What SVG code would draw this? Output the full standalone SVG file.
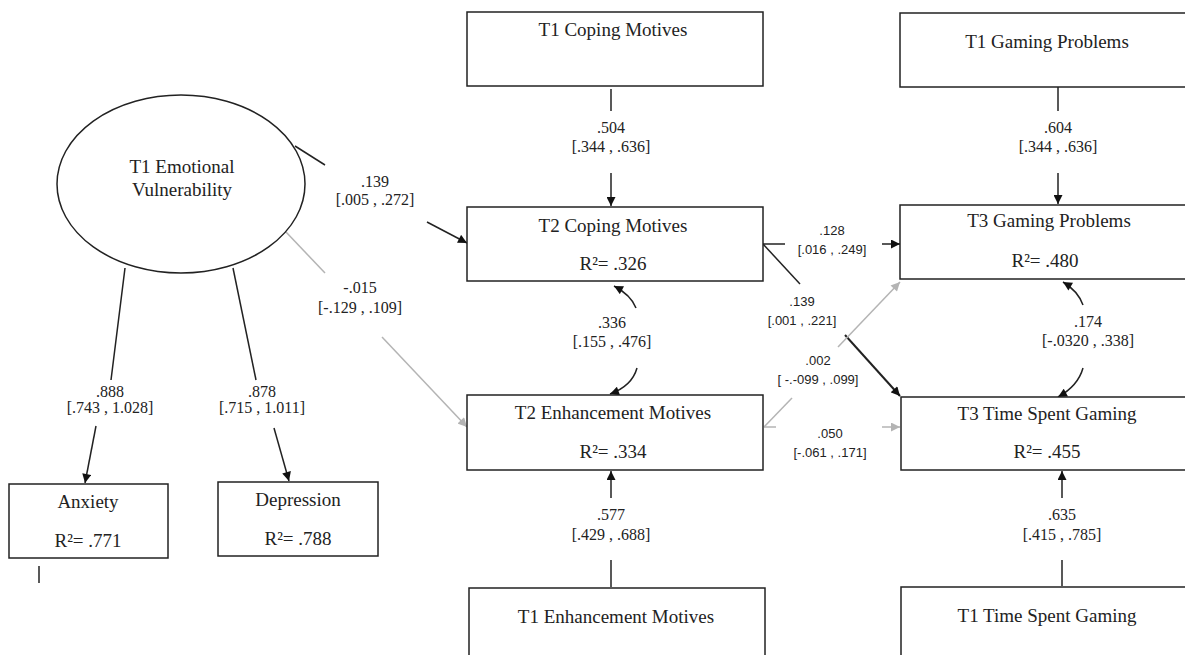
<svg xmlns="http://www.w3.org/2000/svg" width="1185" height="655" viewBox="0 0 1185 655">
<style>
  .box { fill: #fff; stroke: #222; stroke-width: 1.5; }
  .node { font-family: "Liberation Serif", "Times New Roman", serif; font-size: 19px; fill: #222; text-anchor: middle; }
  .lab { font-family: "Liberation Serif", "Times New Roman", serif; font-size: 16px; fill: #222; text-anchor: middle; }
  .sans { font-family: "Liberation Sans", Arial, sans-serif; font-size: 13px; fill: #222; text-anchor: middle; }
  .ln { stroke: #222; stroke-width: 1.5; fill: none; }
  .lnb { stroke: #222; stroke-width: 2; fill: none; }
  .gr { stroke: #b4b4b4; stroke-width: 1.5; fill: none; }
  .arr { marker-end: url(#ah); }
  .garr { marker-end: url(#gh); }
</style>
<defs>
  <marker id="ah" viewBox="0 0 10 10" refX="10" refY="5" markerWidth="10" markerHeight="9" markerUnits="userSpaceOnUse" orient="auto">
    <path d="M0,0 L10,5 L0,10 z" fill="#111"/>
  </marker>
  <marker id="gh" viewBox="0 0 10 10" refX="10" refY="5" markerWidth="10" markerHeight="9" markerUnits="userSpaceOnUse" orient="auto">
    <path d="M0,0 L10,5 L0,10 z" fill="#b4b4b4"/>
  </marker>
</defs>
<rect width="1185" height="655" fill="#fff"/>

<g id="connectors">
  <line class="ln" x1="611" y1="89" x2="611" y2="111"/>
  <line class="ln arr" x1="611" y1="173" x2="611" y2="206"/>
  <line class="ln" x1="1058" y1="87" x2="1058" y2="111"/>
  <line class="ln arr" x1="1058" y1="173" x2="1058" y2="204"/>
  <line class="ln" x1="611" y1="587" x2="611" y2="560"/>
  <line class="ln arr" x1="611" y1="498" x2="611" y2="471"/>
  <line class="ln" x1="1062" y1="586" x2="1062" y2="560"/>
  <line class="ln arr" x1="1062" y1="498" x2="1062" y2="471"/>
  <line class="ln" x1="125" y1="268" x2="111" y2="380"/>
  <line class="ln arr" x1="96" y1="426" x2="85" y2="483"/>
  <line class="ln" x1="233" y1="268" x2="256" y2="380"/>
  <line class="ln arr" x1="274" y1="428" x2="289" y2="481"/>
  <line class="ln" x1="295" y1="146" x2="325" y2="165"/>
  <line class="ln arr" x1="427" y1="222" x2="467" y2="243"/>
  <line class="gr" x1="286" y1="232" x2="325" y2="273"/>
  <line class="gr garr" x1="382" y1="337" x2="467" y2="427"/>
  <line class="ln" x1="763" y1="244" x2="785" y2="244"/>
  <line class="ln arr" x1="882" y1="244" x2="900" y2="244"/>
  <line class="ln" x1="763" y1="244" x2="800" y2="284"/>
  <line class="lnb arr" x1="845" y1="335" x2="900" y2="396"/>
  <line class="gr" x1="764" y1="427" x2="792" y2="398"/>
  <line class="gr garr" x1="838" y1="347" x2="900" y2="282"/>
  <line class="gr" x1="764" y1="427" x2="776" y2="427"/>
  <line class="gr garr" x1="882" y1="427" x2="900" y2="427"/>
  <path class="ln arr" d="M636,308 Q631,295 614,286"/>
  <path class="ln arr" d="M637,368 Q632,386 610,394"/>
  <path class="ln arr" d="M1083,305 Q1078,291 1063,282"/>
  <path class="ln arr" d="M1083,368 Q1078,386 1058,397"/>
  <line class="ln" x1="39" y1="566" x2="39" y2="583"/>
</g>

<g id="labels">
  <text class="lab" x="611" y="133">.504</text>
  <text class="lab" x="611" y="152">[.344 , .636]</text>
  <text class="lab" x="1058" y="133">.604</text>
  <text class="lab" x="1058" y="152">[.344 , .636]</text>
  <text class="lab" x="611" y="520">.577</text>
  <text class="lab" x="611" y="540">[.429 , .688]</text>
  <text class="lab" x="1062" y="520">.635</text>
  <text class="lab" x="1062" y="540">[.415 , .785]</text>
  <text class="lab" x="110" y="397">.888</text>
  <text class="lab" x="110" y="413">[.743 , 1.028]</text>
  <text class="lab" x="262" y="397">.878</text>
  <text class="lab" x="262" y="413">[.715 , 1.011]</text>
  <text class="lab" x="375" y="187">.139</text>
  <text class="lab" x="375" y="205">[.005 , .272]</text>
  <text class="lab" x="360" y="293">-.015</text>
  <text class="lab" x="360" y="313">[-.129 , .109]</text>
  <text class="lab" x="612" y="328">.336</text>
  <text class="lab" x="612" y="347">[.155 , .476]</text>
  <text class="lab" x="1088" y="327">.174</text>
  <text class="lab" x="1088" y="346">[-.0320 , .338]</text>
  <text class="sans" x="832" y="235">.128</text>
  <text class="sans" x="832" y="254">[.016 , .249]</text>
  <text class="sans" x="802" y="306">.139</text>
  <text class="sans" x="802" y="325">[.001 , .221]</text>
  <text class="sans" x="818" y="365">.002</text>
  <text class="sans" x="818" y="384">[ -.-099 , .099]</text>
  <text class="sans" x="830" y="438">.050</text>
  <text class="sans" x="830" y="457">[-.061 , .171]</text>
</g>

<g id="emotional-vulnerability">
  <ellipse cx="181" cy="184" rx="124" ry="89" fill="#fff" stroke="#222" stroke-width="1.5"/>
  <text class="node" x="182" y="173">T1 Emotional</text>
  <text class="node" x="182" y="196">Vulnerability</text>
</g>

<g id="anxiety">
  <rect class="box" x="9" y="484" width="159" height="74"/>
  <text class="node" x="88" y="508">Anxiety</text>
  <text class="node" x="88" y="547">R²= .771</text>
</g>

<g id="depression">
  <rect class="box" x="218" y="482" width="160" height="74"/>
  <text class="node" x="298" y="506">Depression</text>
  <text class="node" x="298" y="545">R²= .788</text>
</g>

<g id="t1-coping">
  <rect class="box" x="467" y="12" width="296" height="74"/>
  <text class="node" x="613" y="36">T1 Coping Motives</text>
</g>

<g id="t2-coping">
  <rect class="box" x="467" y="207" width="296" height="74"/>
  <text class="node" x="613" y="232">T2 Coping Motives</text>
  <text class="node" x="613" y="270">R²= .326</text>
</g>

<g id="t2-enhancement">
  <rect class="box" x="467" y="395" width="296" height="75"/>
  <text class="node" x="613" y="419">T2 Enhancement Motives</text>
  <text class="node" x="613" y="458">R²= .334</text>
</g>

<g id="t1-enhancement">
  <rect class="box" x="469" y="588" width="296" height="80"/>
  <text class="node" x="616" y="623">T1 Enhancement Motives</text>
</g>

<g id="t1-gaming-problems">
  <rect class="box" x="900" y="13" width="300" height="74"/>
  <text class="node" x="1047" y="48">T1 Gaming Problems</text>
</g>

<g id="t3-gaming-problems">
  <rect class="box" x="900" y="205" width="300" height="74"/>
  <text class="node" x="1049" y="227">T3 Gaming Problems</text>
  <text class="node" x="1045" y="267">R²= .480</text>
</g>

<g id="t3-time-spent">
  <rect class="box" x="901" y="397" width="300" height="73"/>
  <text class="node" x="1047" y="420">T3 Time Spent Gaming</text>
  <text class="node" x="1047" y="458">R²= .455</text>
</g>

<g id="t1-time-spent">
  <rect class="box" x="901" y="587" width="300" height="80"/>
  <text class="node" x="1047" y="622">T1 Time Spent Gaming</text>
</g>
</svg>
